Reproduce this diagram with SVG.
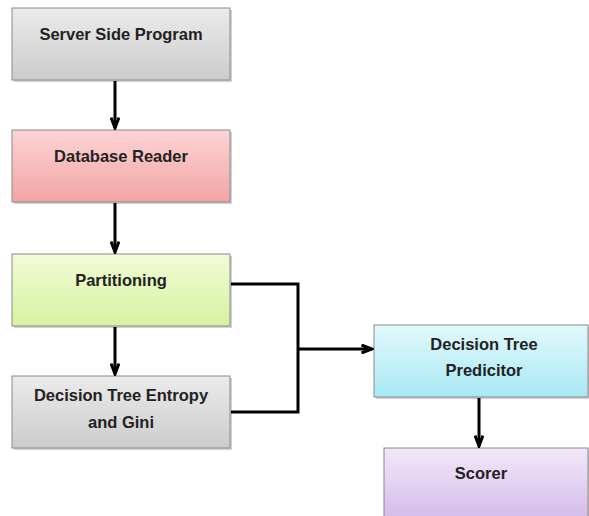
<svg xmlns="http://www.w3.org/2000/svg" width="589" height="516" viewBox="0 0 589 516">
<defs>
<linearGradient id="gGrey" x1="0" y1="0" x2="0" y2="1"><stop offset="0" stop-color="#ebebeb"/><stop offset="1" stop-color="#cccccc"/></linearGradient>
<linearGradient id="gRed" x1="0" y1="0" x2="0" y2="1"><stop offset="0" stop-color="#fbd4d4"/><stop offset="1" stop-color="#f3a4a4"/></linearGradient>
<linearGradient id="gGreen" x1="0" y1="0" x2="0" y2="1"><stop offset="0" stop-color="#f2fbd6"/><stop offset="1" stop-color="#d6f2a0"/></linearGradient>
<linearGradient id="gCyan" x1="0" y1="0" x2="0" y2="1"><stop offset="0" stop-color="#e2f9fc"/><stop offset="1" stop-color="#a8e8f4"/></linearGradient>
<linearGradient id="gPurple" x1="0" y1="0" x2="0" y2="1"><stop offset="0" stop-color="#f2e8f9"/><stop offset="1" stop-color="#d4bcea"/></linearGradient>
<marker id="arr" viewBox="0 0 14 10" refX="12" refY="5" markerWidth="14" markerHeight="10" markerUnits="userSpaceOnUse" orient="auto">
<path d="M1.5,1 L12,5 L1.5,9" fill="none" stroke="#000" stroke-width="3"/>
</marker>
</defs>
<style>
.box{stroke:#8a8a8a;stroke-width:1}
.sh{fill:#000;opacity:0.18}
.t{font-family:"Liberation Sans",Arial,sans-serif;font-weight:bold;font-size:16.5px;fill:#222;text-anchor:middle}
.c{fill:none;stroke:#000;stroke-width:3}
</style>
<rect width="589" height="516" fill="#fff"/>
<g id="server">
<rect class="sh" x="14" y="10" width="218" height="72"/>
<rect class="box" x="12" y="8" width="218" height="72" fill="url(#gGrey)"/>
<text class="t" x="121" y="40">Server Side Program</text>
</g>
<g id="reader">
<rect class="sh" x="14" y="132" width="218" height="72"/>
<rect class="box" x="12" y="130" width="218" height="72" fill="url(#gRed)"/>
<text class="t" x="121" y="162">Database Reader</text>
</g>
<g id="partitioning">
<rect class="sh" x="14" y="256" width="218" height="72"/>
<rect class="box" x="12" y="254" width="218" height="72" fill="url(#gGreen)"/>
<text class="t" x="121" y="286">Partitioning</text>
</g>
<g id="entropy">
<rect class="sh" x="14" y="378" width="218" height="72"/>
<rect class="box" x="12" y="376" width="218" height="72" fill="url(#gGrey)"/>
<text class="t" x="121" y="401">Decision Tree Entropy</text>
<text class="t" x="121" y="428">and Gini</text>
</g>
<g id="predictor">
<rect class="sh" x="376" y="327" width="214" height="72"/>
<rect class="box" x="374" y="325" width="214" height="72" fill="url(#gCyan)"/>
<text class="t" x="484" y="350">Decision Tree</text>
<text class="t" x="484" y="376">Predicitor</text>
</g>
<g id="scorer">
<rect class="sh" x="386" y="450" width="204" height="70"/>
<rect class="box" x="384" y="448" width="204" height="70" fill="url(#gPurple)"/>
<text class="t" x="481" y="479">Scorer</text>
</g>
<g id="connectors">
<line class="c" x1="115" y1="81" x2="115" y2="128" marker-end="url(#arr)"/>
<line class="c" x1="115" y1="203" x2="115" y2="252" marker-end="url(#arr)"/>
<line class="c" x1="115" y1="327" x2="115" y2="374" marker-end="url(#arr)"/>
<polyline class="c" points="231,284 298,284 298,412 231,412"/>
<line class="c" x1="298" y1="349" x2="372" y2="349" marker-end="url(#arr)"/>
<line class="c" x1="479" y1="398" x2="479" y2="446" marker-end="url(#arr)"/>
</g>
</svg>
